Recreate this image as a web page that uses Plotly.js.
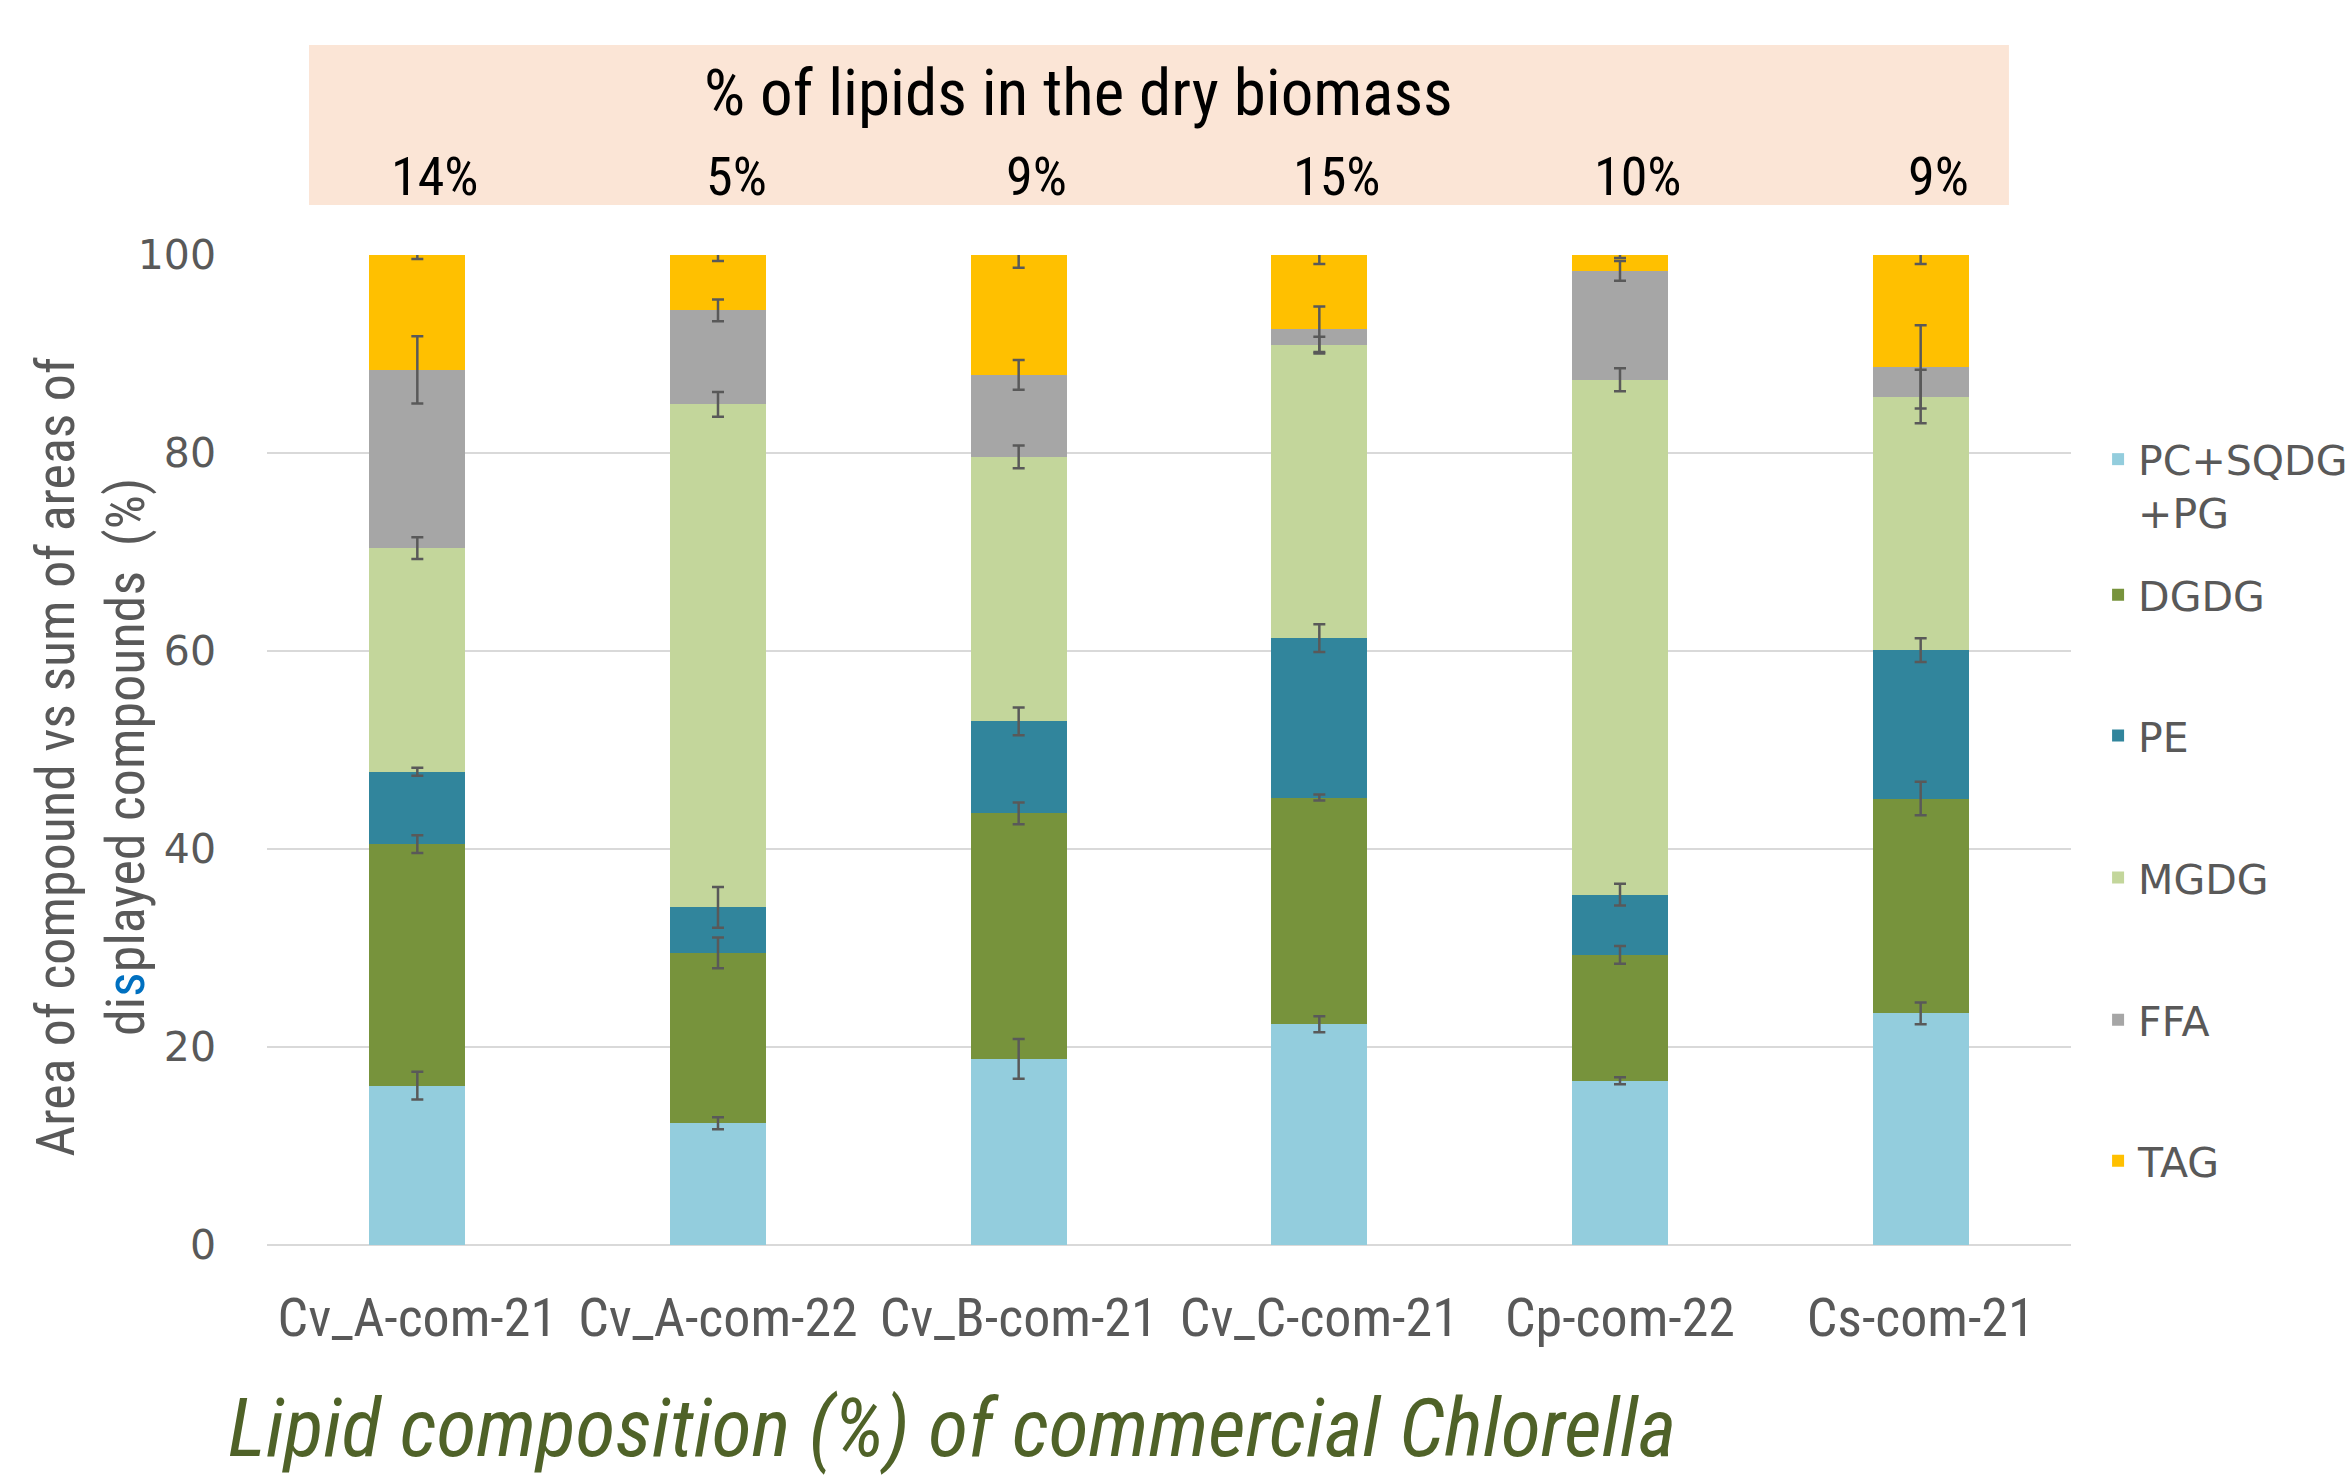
<!DOCTYPE html>
<html><head><meta charset="utf-8">
<script src="https://cdn.plot.ly/plotly-3.0.1.min.js"></script>
<style>html,body{margin:0;padding:0;background:#fff}</style>
</head><body>
<div id="chart" style="width:2350px;height:1479px"></div>
<script>
// ---- data ----
const categories = ['Cv_A-com-21','Cv_A-com-22','Cv_B-com-21','Cv_C-com-21','Cp-com-22','Cs-com-21'];
const lipidPercent = ['14%','5%','9%','15%','10%','9%'];
const seriesNames = ['PC+SQDG<br>+PG','DGDG','PE','MGDG','FFA','TAG'];
const pcSqdgPg = [16.1,12.3,18.8,22.3,16.6,23.4];
const dgdg     = [24.4,17.2,24.8,22.9,12.7,21.7];
const pe       = [7.3,4.6,9.3,16.1,6.1,15.0];
const mgdg     = [22.6,50.8,26.7,29.6,52.0,25.6];
const ffa      = [18.0,9.5,8.3,1.6,11.0,3.0];
const tag      = [11.6,5.6,12.1,7.5,1.6,11.3];
const errPcSqdgPg = [1.4,0.6,2.0,0.8,0.35,1.1];
const errDgdg     = [0.9,1.55,1.1,0.3,0.9,1.7];
const errPe       = [0.4,2.05,1.4,1.4,1.1,1.2];
const errMgdg     = [1.1,1.25,1.15,0.85,1.15,2.7];
const errFfa      = [3.4,1.1,1.5,2.3,1.0,4.2];
const errTag      = [0.4,0.6,1.3,0.9,0.3,0.9];
const yTickVals = [0,20,40,60,80,100];

// ---- styling ----
const seriesColors = ['#93CDDD','#77933C','#31859C','#C3D69B','#A6A6A6','#FFC000'];
const seriesValues = [pcSqdgPg,dgdg,pe,mgdg,ffa,tag];
const seriesErrors = [errPcSqdgPg,errDgdg,errPe,errMgdg,errFfa,errTag];
const legendY = [0.6714,0.5977,0.5024,0.4064,0.3103,0.2150];
const narrow = '"Liberation Sans Narrow", "Arial Narrow", "Roboto Condensed", "Liberation Sans", sans-serif';
const wide = '"DejaVu Sans", "Noto Sans", sans-serif';
const grey = '#595959';

const traces = [];
const layout = {
  width: 2350, height: 1479,
  margin: {l: 267, r: 279, t: 255, b: 234, autoexpand: false},
  paper_bgcolor: '#ffffff', plot_bgcolor: '#ffffff',
  barmode: 'stack', bargap: 0.68,
  showlegend: true,
  xaxis: {
    type: 'category', categoryarray: categories, automargin: false,
    showgrid: false, zeroline: false, showline: false, ticks: '',
    ticklabelstandoff: 36,
    tickfont: {family: narrow, size: 54, color: grey}
  },
  yaxis: {
    range: [0, 100], tickvals: yTickVals, automargin: false,
    showgrid: true, gridcolor: '#D9D9D9', gridwidth: 2.5,
    zeroline: true, zerolinecolor: '#D9D9D9', zerolinewidth: 2.5,
    showline: false, ticks: '', ticklabelstandoff: 50,
    tickfont: {family: wide, size: 41, color: grey}
  },
  title: {
    text: 'Lipid composition (%) of commercial Chlorella',
    xref: 'container', yref: 'container', x: 0.097, xanchor: 'left', y: 0.035, yanchor: 'middle',
    font: {family: narrow, size: 82, color: '#4F6228', style: 'italic'}
  },
  shapes: [{
    type: 'rect', xref: 'paper', yref: 'paper', layer: 'below',
    x0: 0.0233, x1: 0.9656, y0: 1.0505, y1: 1.2121,
    fillcolor: '#FBE5D6', line: {width: 0}
  }],
  annotations: [
    {text: '% of lipids in the dry biomass', xref: 'paper', yref: 'paper', x: 0.450, y: 1.1636,
     xanchor: 'center', yanchor: 'middle', showarrow: false,
     font: {family: narrow, size: 65, color: '#000000'}},
    {text: 'Area of compound vs sum of areas of<br>di<span style="color:#0070C0">s</span>played compounds  (%)',
     xref: 'paper', yref: 'paper', x: -0.0976, y: 0.493, textangle: -90,
     xanchor: 'center', yanchor: 'middle', showarrow: false,
     font: {family: narrow, size: 54, color: grey}}
  ]
};

categories.forEach((c, i) => {
  layout.annotations.push({
    text: lipidPercent[i], xref: 'x', yref: 'paper', x: c, y: 1.0788, xshift: 18,
    xanchor: 'center', yanchor: 'middle', showarrow: false,
    font: {family: narrow, size: 54, color: '#000000'}
  });
});

seriesNames.forEach((name, s) => {
  const legendId = s === 0 ? 'legend' : 'legend' + (s + 1);
  traces.push({
    type: 'bar', name: name, x: categories, y: seriesValues[s],
    marker: {color: seriesColors[s], line: {width: 0}},
    legend: legendId, hoverinfo: 'skip'
  });
  layout[legendId] = {
    xref: 'container', yref: 'container',
    x: 0.8928, xanchor: 'left', y: legendY[s], yanchor: 'middle',
    bgcolor: 'rgba(0,0,0,0)', valign: 'top',
    font: {family: wide, size: 41, color: grey}
  };
});

// error bars drawn on top of every stacked segment
const cumulative = categories.map(() => 0);
seriesNames.forEach((name, s) => {
  const tops = seriesValues[s].map((v, i) => (cumulative[i] += v));
  traces.push({
    type: 'scatter', mode: 'markers', x: categories, y: tops.slice(),
    marker: {size: 1, opacity: 0}, showlegend: false, hoverinfo: 'skip',
    error_y: {type: 'data', array: seriesErrors[s], visible: true,
              color: '#595959', thickness: 2.5, width: 6}
  });
});

Plotly.newPlot('chart', traces, layout, {staticPlot: true});
</script>
</body></html>
